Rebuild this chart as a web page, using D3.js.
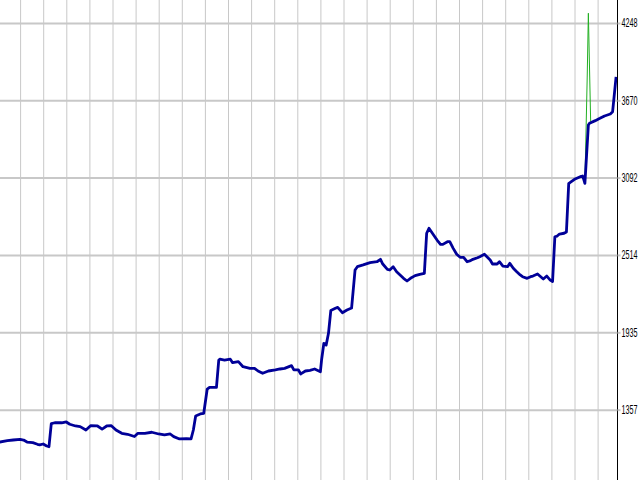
<!DOCTYPE html>
<html>
<head>
<meta charset="utf-8">
<script src="https://cdn.jsdelivr.net/npm/d3@7"></script>
<style>
  html, body { margin: 0; padding: 0; background: #fff; }
  svg { display: block; }
</style>
</head>
<body>
<div id="svgContainer"></div>
<script>
const width = 640
const height = 480

// trade number and balance after it
const trades = [
  0, 9, 14, 20, 23, 26, 31, 35, 37, 40, 43, 45,
  47, 50, 56, 60, 63, 68, 72, 77, 81, 87, 91, 95, 99, 103, 108, 113, 119,
  122, 128, 134, 140, 145, 150, 153, 158, 164, 168,
  170, 172, 176, 179, 182, 184, 190,
  192, 193, 197, 202, 204, 209, 213, 219, 223, 226, 230, 235, 241, 245, 249,
  255, 257, 261, 263, 267, 271, 275, 280,
  281, 283, 285, 287, 289, 293, 295, 299, 303, 307,
  310, 312, 317, 323, 329, 332, 334, 338, 340, 343, 346, 349, 352, 355,
  358, 362, 366, 370,
  372, 374, 378, 381, 384, 386, 390, 392, 395, 398, 401, 404, 407, 410,
  412, 416, 418, 422, 427, 429, 433, 435, 438, 442, 444, 447, 450, 453,
  455, 459, 462, 464, 468, 470, 473, 476, 479, 481,
  483, 485, 487, 491, 493,
  495, 496, 500, 505, 507, 508, 509,
  512, 513, 518, 522, 526, 531, 533, 536
]
const balance = [
  1111, 1125, 1130, 1135, 1130, 1115, 1110, 1098, 1093, 1100, 1085, 1080,
  1253, 1259, 1259, 1265, 1248, 1235, 1230, 1205, 1237, 1235, 1212, 1235, 1237, 1205, 1180, 1173, 1156,
  1180, 1180, 1188, 1175, 1168, 1175, 1155, 1138, 1140, 1138,
  1205, 1310, 1325, 1330, 1511, 1524, 1524,
  1728, 1734, 1728, 1734, 1708, 1716, 1678, 1666, 1666, 1646, 1629, 1646, 1654, 1661, 1666,
  1686, 1654, 1654, 1624, 1646, 1651, 1661, 1641,
  1728, 1853, 1840, 1928, 2098, 2115, 2122, 2082, 2102, 2117,
  2401, 2426, 2439, 2456, 2463, 2481, 2446, 2406, 2401, 2426, 2388, 2364, 2339, 2319,
  2339, 2359, 2369, 2376,
  2676, 2713, 2663, 2625, 2593, 2593, 2613, 2613, 2563, 2519, 2496, 2496, 2463, 2471,
  2481, 2493, 2501, 2519, 2476, 2446, 2446, 2463, 2431, 2426, 2451, 2414, 2388, 2364,
  2351, 2339, 2351, 2356, 2371, 2356, 2334, 2356, 2326, 2315,
  2650, 2655, 2670, 2676, 2685,
  3049, 3054, 3079, 3099, 3104, 3079, 3049,
  3485, 3498, 3518, 3535, 3553, 3568, 3585, 3846
]

// equity only leaves the balance line at the spike
const equityTrades = [509, 511, 512, 514]
const equity = [3049, 3844, 4321, 3510]

const yTicks = [1357, 1935, 2514, 3092, 3670, 4248]
const xGrid = d3.range(20, 540, 20)

const axisX = 617

const x = d3.scaleLinear().domain([0, 540]).range([-3, 620.7])
const y = d3.scaleLinear().domain([831, 4420]).range([height, 0])

const svg = d3
  .select("#svgContainer")
  .append("svg")
  .attr("width", width)
  .attr("height", height)

// vertical grid
svg
  .append("g")
  .call(d3.axisBottom(x).tickValues(xGrid).tickSize(height).tickFormat(""))
  .call((g) => g.select(".domain").remove())
  .selectAll("line")
  .attr("stroke", "#c8c8c8")
  .attr("stroke-width", 1)

// horizontal grid
svg
  .append("g")
  .attr("transform", `translate(${axisX},0)`)
  .call(d3.axisLeft(y).tickValues(yTicks).tickSize(axisX).tickFormat(""))
  .call((g) => g.select(".domain").remove())
  .selectAll("line")
  .attr("stroke", "#c8c8c8")
  .attr("stroke-width", 2)

const balanceData = trades.map((t, i) => ({ t, v: balance[i] }))
const equityData = equityTrades.map((t, i) => ({ t, v: equity[i] }))

const line = d3
  .line()
  .x((d) => x(d.t))
  .y((d) => y(d.v))

svg
  .append("path")
  .datum(equityData)
  .attr("fill", "none")
  .attr("stroke", "#22b022")
  .attr("stroke-width", 1)
  .attr("d", line)

svg
  .append("path")
  .datum(balanceData)
  .attr("fill", "none")
  .attr("stroke", "#000098")
  .attr("stroke-width", 2.8)
  .attr("stroke-linejoin", "round")
  .attr("d", line)

// right axis
const scaleX = 0.6
const axis = svg
  .append("g")
  .attr("transform", `translate(${axisX + 0.5},0)`)
  .call(
    d3
      .axisRight(y)
      .tickValues(yTicks)
      .tickFormat(d3.format("d"))
      .tickSize(3)
      .tickSizeOuter(0)
      .tickPadding(1)
  )

axis.select(".domain").attr("stroke", "#000").attr("d", `M0,0V${height}`)
axis.selectAll(".tick line").attr("stroke", "#c8c8c8").attr("stroke-width", 2)
axis
  .selectAll("text")
  .attr("font-family", "Liberation Sans, Arial, sans-serif")
  .attr("font-size", 12)
  .attr("fill", "#000")
  .attr("x", 4 / scaleX)
  .attr("transform", `scale(${scaleX},1)`)
</script>
</body>
</html>
